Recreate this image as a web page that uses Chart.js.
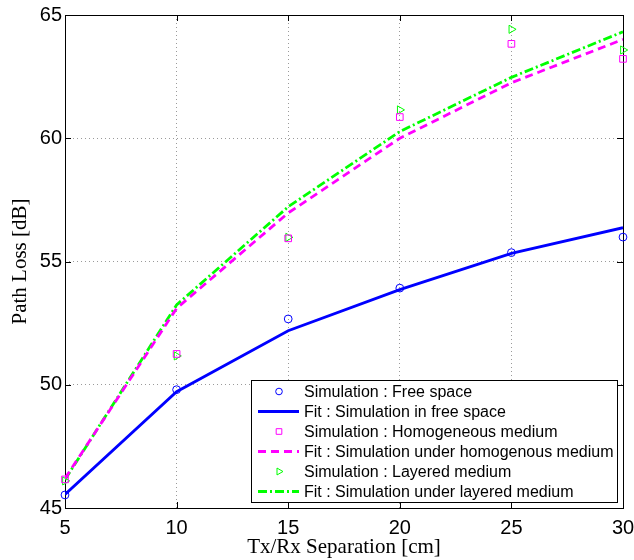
<!DOCTYPE html>
<html>
<head>
<meta charset="utf-8">
<script src="https://cdn.jsdelivr.net/npm/chart.js@4.4.1/dist/chart.umd.min.js"></script>
<style>
  html, body { margin: 0; padding: 0; background: #fff; }
  #wrap { width: 634px; height: 560px; }
</style>
</head>
<body>
<div id="wrap"><canvas id="c" width="634" height="560"></canvas></div>
<script>
// Tx/Rx separation in cm
const separation = [5, 10, 15, 20, 25, 30];

// path loss in dB
const simFree    = [45.53, 49.80, 52.67, 53.92, 55.36, 55.99];
const fitFree    = [45.55, 49.72, 52.19, 53.86, 55.33, 56.37];
const simHomog   = [46.16, 51.25, 55.94, 60.86, 63.83, 63.22];
const fitHomog   = [46.20, 53.10, 56.97, 60.00, 62.25, 64.01];
const simLayered = [46.10, 51.17, 55.98, 61.15, 64.42, 63.58];
const fitLayered = [46.15, 53.24, 57.22, 60.27, 62.47, 64.32];

const xTicks = [5, 10, 15, 20, 25, 30];
const yTicks = [45, 50, 55, 60, 65];

const BLUE = "#0000ff", MAGENTA = "#ff00ff", GREEN = "#00ff00";

function pts(ys) {
	return separation.map((x, i) => ({x: x, y: ys[i]}));
}

function markerSet(label, ys, color, style, radius, rotation) {
	return {
		label: label, data: pts(ys), showLine: false, clip: false,
		pointStyle: style, pointRadius: radius, pointRotation: rotation || 0,
		pointBorderColor: color, pointBackgroundColor: "rgba(0,0,0,0)",
		pointBorderWidth: 1, borderColor: color
	};
}

function lineSet(label, ys, color, dash) {
	return {
		label: label, data: pts(ys), showLine: true, tension: 0,
		borderColor: color, borderWidth: 2.8, borderDash: dash,
		pointRadius: 0, fill: false
	};
}

const datasets = [
	markerSet("Simulation : Free space", simFree, BLUE, "circle", 3.9),
	lineSet("Fit : Simulation in free space", fitFree, BLUE, []),
	markerSet("Simulation : Homogeneous medium", simHomog, MAGENTA, "rect", 4.7),
	lineSet("Fit : Simulation under homogenous medium", fitHomog, MAGENTA, [8, 5]),
	markerSet("Simulation : Layered medium", simLayered, GREEN, "triangle", 4.7, 90),
	lineSet("Fit : Simulation under layered medium", fitLayered, GREEN, [9, 3, 2, 3])
];

// box around the plot area with inward ticks on all sides
const frame = {
	id: "frame",
	beforeDatasetsDraw(chart) {
		const ctx = chart.ctx, a = chart.chartArea;
		const sx = chart.scales.x, sy = chart.scales.y;
		ctx.save();
		ctx.strokeStyle = "#000";
		ctx.lineWidth = 1;
		ctx.strokeRect(a.left + 0.5, a.top + 0.5, a.right - a.left, a.bottom - a.top);
		ctx.beginPath();
		xTicks.forEach(v => {
			const px = Math.round(sx.getPixelForValue(v)) + 0.5;
			ctx.moveTo(px, a.bottom); ctx.lineTo(px, a.bottom - 6);
			ctx.moveTo(px, a.top); ctx.lineTo(px, a.top + 6);
		});
		yTicks.forEach(v => {
			const py = Math.round(sy.getPixelForValue(v)) + 0.5;
			ctx.moveTo(a.left, py); ctx.lineTo(a.left + 6, py);
			ctx.moveTo(a.right, py); ctx.lineTo(a.right - 6, py);
		});
		ctx.stroke();
		ctx.restore();
	}
};

// legend box inside the lower right of the plot
const boxLegend = {
	id: "boxLegend",
	afterDraw(chart) {
		const ctx = chart.ctx;
		const bx = 251, by = 380, bw = 366, bh = 122;
		ctx.save();
		ctx.fillStyle = "#fff";
		ctx.fillRect(bx, by, bw, bh);
		ctx.strokeStyle = "#000";
		ctx.lineWidth = 1;
		ctx.strokeRect(bx + 0.5, by + 0.5, bw, bh);
		ctx.font = "16px 'Liberation Sans', Arial, sans-serif";
		ctx.textBaseline = "middle";
		chart.data.datasets.forEach((ds, i) => {
			const y = by + 11.5 + i * 20;
			if (ds.showLine) {
				ctx.strokeStyle = ds.borderColor;
				ctx.lineWidth = ds.borderWidth;
				ctx.setLineDash(ds.borderDash);
				ctx.beginPath();
				ctx.moveTo(258, y); ctx.lineTo(299, y);
				ctx.stroke();
				ctx.setLineDash([]);
			} else {
				ctx.strokeStyle = ds.pointBorderColor;
				ctx.fillStyle = "rgba(0,0,0,0)";
				ctx.lineWidth = 1;
				Chart.helpers.drawPoint(ctx, {
					pointStyle: ds.pointStyle, radius: ds.pointRadius * 0.85,
					rotation: ds.pointRotation, borderWidth: 1
				}, 279, y);
			}
			ctx.fillStyle = "#000";
			ctx.fillText(ds.label, 304, y + 1);
		});
		ctx.restore();
	}
};

const gridStyle = {color: "#9a9a9a", lineWidth: 1, drawTicks: false};
const borderStyle = {display: false, dash: [1, 3]};
const tickFont = {family: "'Liberation Sans', Arial", size: 20};
const titleFont = {family: "'Liberation Serif', 'Times New Roman', serif", size: 21};

new Chart(document.getElementById("c"), {
	type: "scatter",
	data: {datasets: datasets},
	options: {
		responsive: false,
		devicePixelRatio: 1,
		animation: false,
		events: [],
		layout: {padding: {top: 15, right: 11, left: 0, bottom: 0}},
		plugins: {legend: {display: false}, tooltip: {enabled: false}},
		scales: {
			x: {
				type: "linear", min: 5, max: 30,
				afterBuildTicks: s => { s.ticks = xTicks.map(v => ({value: v})); },
				afterFit: s => { s.height = 52; s.paddingLeft = 0; s.paddingRight = 0; },
				grid: gridStyle, border: borderStyle,
				ticks: {color: "#000", padding: 8, font: tickFont},
				title: {display: true, text: "Tx/Rx Separation [cm]", color: "#000",
					padding: {top: 1, bottom: 0}, font: titleFont}
			},
			y: {
				type: "linear", min: 45, max: 65,
				afterBuildTicks: s => { s.ticks = yTicks.map(v => ({value: v})); },
				afterFit: s => { s.width = 65; s.paddingTop = 0; s.paddingBottom = 0; },
				grid: gridStyle, border: borderStyle,
				ticks: {color: "#000", padding: 3, font: tickFont},
				title: {display: true, text: "Path Loss [dB]", color: "#000",
					padding: {top: 8, bottom: 0}, font: titleFont}
			}
		}
	},
	plugins: [frame, boxLegend]
});
</script>
</body>
</html>
